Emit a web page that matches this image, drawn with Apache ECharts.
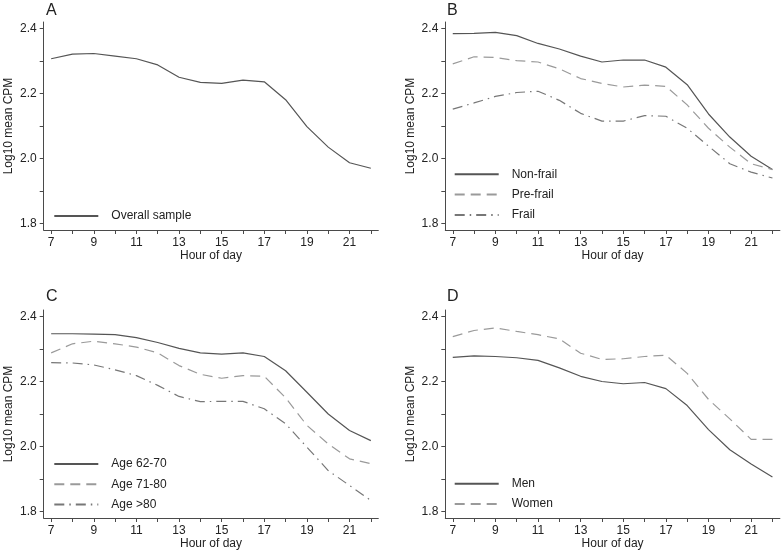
<!DOCTYPE html>
<html><head><meta charset="utf-8">
<script src="https://cdn.jsdelivr.net/npm/echarts@6/dist/echarts.min.js"></script>
<style>html,body{margin:0;padding:0;background:#fff}#c{width:784px;height:554px}</style>
</head><body><div id="c"></div>
<script>
const hours = [7, 8, 9, 10, 11, 12, 13, 14, 15, 16, 17, 18, 19, 20, 21, 22];
const hourLabels = [7, 9, 11, 13, 15, 17, 19, 21];
const yTicks = [1.8, 1.9, 2.0, 2.1, 2.2, 2.3, 2.4];
const yLabels = [1.8, 2.0, 2.2, 2.4];

const overall  = [2.307, 2.321, 2.323, 2.315, 2.307, 2.288, 2.250, 2.234, 2.231, 2.241, 2.236, 2.181, 2.098, 2.035, 1.987, 1.970];
const nonFrail = [2.384, 2.385, 2.388, 2.378, 2.354, 2.337, 2.315, 2.297, 2.303, 2.303, 2.281, 2.227, 2.137, 2.066, 2.007, 1.966];
const preFrail = [2.291, 2.313, 2.311, 2.301, 2.297, 2.276, 2.246, 2.231, 2.220, 2.226, 2.222, 2.165, 2.093, 2.035, 1.984, 1.966];
const frail    = [2.152, 2.171, 2.191, 2.203, 2.207, 2.179, 2.139, 2.115, 2.115, 2.132, 2.130, 2.093, 2.038, 1.984, 1.958, 1.940];
const age6270  = [2.347, 2.347, 2.346, 2.344, 2.335, 2.320, 2.302, 2.288, 2.284, 2.288, 2.277, 2.233, 2.167, 2.100, 2.049, 2.018];
const age7180  = [2.288, 2.316, 2.324, 2.316, 2.306, 2.288, 2.249, 2.222, 2.210, 2.218, 2.216, 2.150, 2.065, 2.008, 1.962, 1.947];
const age80    = [2.258, 2.257, 2.251, 2.236, 2.218, 2.188, 2.154, 2.138, 2.139, 2.139, 2.116, 2.070, 1.998, 1.926, 1.880, 1.834];
const men      = [2.274, 2.279, 2.277, 2.273, 2.265, 2.242, 2.216, 2.200, 2.193, 2.197, 2.178, 2.126, 2.052, 1.990, 1.946, 1.906];
const women    = [2.338, 2.357, 2.365, 2.354, 2.344, 2.331, 2.287, 2.268, 2.270, 2.277, 2.281, 2.225, 2.145, 2.085, 2.022, 2.022];

const panelLetters = ['A', 'B', 'C', 'D'];
const FONT = '"Liberation Sans", Arial, Helvetica, sans-serif';
const TXT = '#222';
const AX = '#4a4a4a';

const styles = {
  solid:   { color: '#555555', type: 'solid', width: 1.2 },
  dashed:  { color: '#9a9a9a', type: [10, 6], width: 1.2 },
  dashdot: { color: '#777777', type: [10, 5, 1.5, 5], width: 1.2 }
};

const grids = [
  { left: 43.7, top: 22, width: 334.6, height: 208 },
  { left: 445.3, top: 22, width: 334.6, height: 208 },
  { left: 43.7, top: 310, width: 334.6, height: 208 },
  { left: 445.3, top: 310, width: 334.6, height: 208 }
];

function xAx(i) {
  return {
    type: 'value', gridIndex: i, min: 6.65, max: 22.35,
    axisLine: { show: true, lineStyle: { color: AX, width: 1 } },
    axisTick: { show: true, length: 4, customValues: hours, lineStyle: { color: AX } },
    axisLabel: { customValues: hourLabels, margin: 7, fontSize: 12, color: TXT, fontFamily: FONT },
    splitLine: { show: false },
    name: 'Hour of day', nameLocation: 'middle', nameGap: 20,
    nameTextStyle: { fontSize: 12, color: TXT, fontFamily: FONT }
  };
}
function yAx(i) {
  return {
    type: 'value', gridIndex: i, min: 1.78, max: 2.42,
    axisLine: { show: true, lineStyle: { color: AX, width: 1 } },
    axisTick: { show: true, length: 4, customValues: yTicks, lineStyle: { color: AX } },
    axisLabel: { customValues: yLabels, margin: 7, fontSize: 12, color: TXT, fontFamily: FONT,
      formatter: v => v.toFixed(1) },
    splitLine: { show: false },
    name: 'Log10 mean CPM', nameLocation: 'middle', nameGap: 29,
    nameTextStyle: { fontSize: 12, color: TXT, fontFamily: FONT }
  };
}

function ser(name, vals, idx, st) {
  return {
    name: name, type: 'line', xAxisIndex: idx, yAxisIndex: idx,
    data: hours.map((h, k) => [h, vals[k]]),
    symbol: 'none', showSymbol: false, smooth: false,
    lineStyle: styles[st], itemStyle: { color: styles[st].color },
    emphasis: { disabled: true }, silent: true, animation: false
  };
}

const series = [
  ser('Overall sample', overall, 0, 'solid'),
  ser('Non-frail', nonFrail, 1, 'solid'),
  ser('Pre-frail', preFrail, 1, 'dashed'),
  ser('Frail', frail, 1, 'dashdot'),
  ser('Age 62-70', age6270, 2, 'solid'),
  ser('Age 71-80', age7180, 2, 'dashed'),
  ser('Age >80', age80, 2, 'dashdot'),
  ser('Men', men, 3, 'solid'),
  ser('Women', women, 3, 'dashed')
];

function leg(names, left, top) {
  return {
    data: names, left: left, top: top, orient: 'vertical',
    itemWidth: 44, itemHeight: 12, itemGap: 8.3, padding: 0,
    selectedMode: false,
    itemStyle: { opacity: 0 },
    textStyle: { fontSize: 12, color: TXT, fontFamily: FONT, padding: [0, 0, 0, 8] }
  };
}

const option = {
  animation: false,
  backgroundColor: '#fff',
  title: panelLetters.map((t, i) => ({
    text: t, left: [46, 447, 46, 447][i], top: [3, 3, 289, 289][i], padding: 0,
    textStyle: { fontSize: 16, fontWeight: 'normal', color: TXT, fontFamily: FONT }
  })),
  grid: grids,
  xAxis: [0, 1, 2, 3].map(xAx),
  yAxis: [0, 1, 2, 3].map(yAx),
  legend: [
    leg(['Overall sample'], 53.3, 210),
    leg(['Non-frail', 'Pre-frail', 'Frail'], 453.7, 168.3),
    leg(['Age 62-70', 'Age 71-80', 'Age >80'], 53.3, 458),
    leg(['Men', 'Women'], 453.7, 477.7)
  ],
  series: series
};

const chart = echarts.init(document.getElementById('c'), null, { renderer: 'canvas' });
chart.setOption(option);
</script>
</body></html>
